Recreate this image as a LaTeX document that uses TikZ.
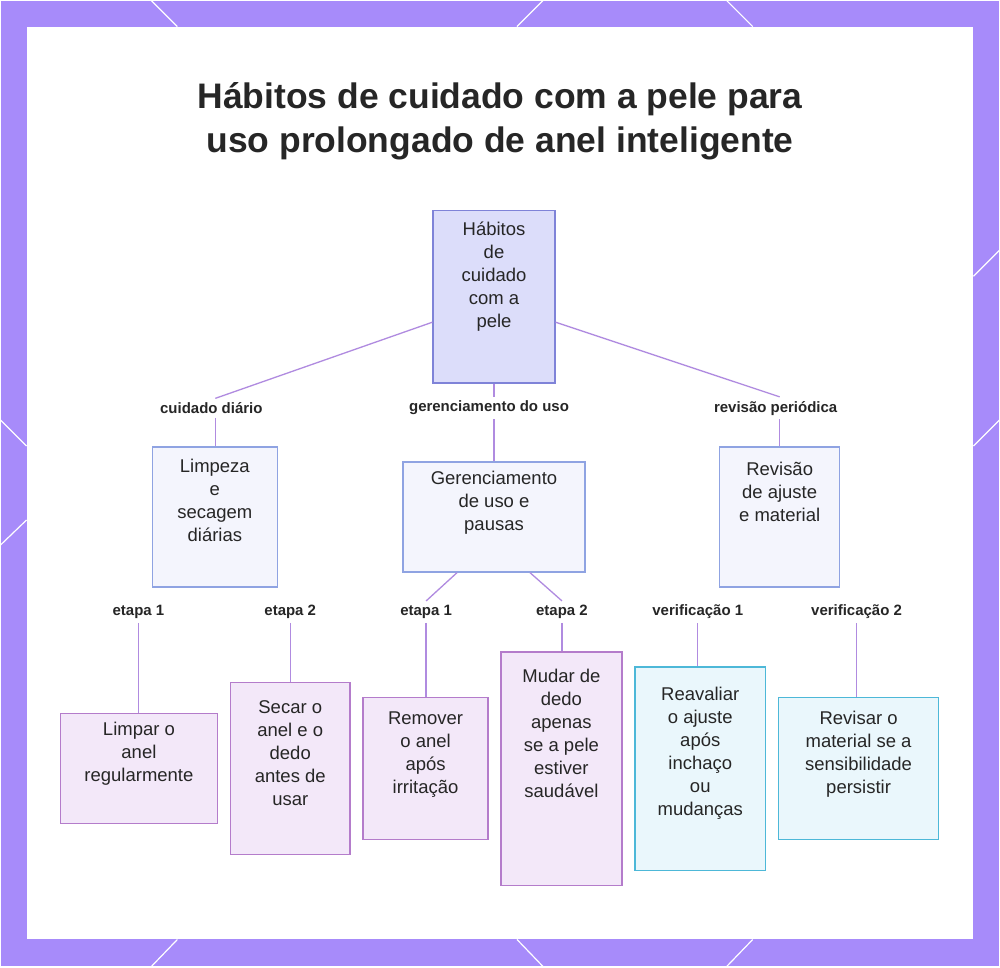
\documentclass[tikz,border=0pt]{standalone}
\usepackage{fontspec}
\setmainfont{Liberation Sans}
\definecolor{frame}{HTML}{A78BFA}
\definecolor{rootfill}{HTML}{DCDDFA}
\definecolor{rootdraw}{HTML}{7F83D8}
\definecolor{midfill}{HTML}{F4F5FD}
\definecolor{middraw}{HTML}{8FA3E2}
\definecolor{purfill}{HTML}{F3E8F9}
\definecolor{purdraw}{HTML}{B47CCB}
\definecolor{cyfill}{HTML}{EAF7FC}
\definecolor{cydraw}{HTML}{4DB8D8}
\definecolor{edge}{HTML}{B08BE0}
\tikzset{
  box/.style={draw, line width=1.4pt, align=center, inner sep=0pt,
    font=\fontsize{18.5}{23}\selectfont, text=black!85},
  root/.style={box, fill=rootfill, draw=rootdraw},
  mid/.style={box, fill=midfill, draw=middraw},
  leaf/.style={box, fill=purfill, draw=purdraw},
  check/.style={box, fill=cyfill, draw=cydraw},
  lbl/.style={font=\bfseries\fontsize{15}{16}\selectfont, inner sep=4pt, text=black!85},
  link/.style={draw=edge, line width=1.3pt},
  deco/.style={draw=white, line width=1.2pt}
}
\begin{document}
\begin{tikzpicture}[x=1pt,y=-1pt]
 \fill[frame] (0,0) rectangle (1000,967);
 \fill[white] (26,26) rectangle (974,940);
 % frame lines
 \draw[deco] (151,0) -- (177,26);
 \draw[deco] (543,0) -- (517,26);
 \draw[deco] (727,0) -- (753,26);
 \draw[deco] (151,967) -- (177,940);
 \draw[deco] (543,967) -- (517,940);
 \draw[deco] (727,967) -- (753,940);
 \draw[deco] (0,420) -- (26,446);
 \draw[deco] (0,545) -- (26,520);
 \draw[deco] (1000,250) -- (974,276);
 \draw[deco] (1000,420) -- (974,446);
 % title
 \node[font=\bfseries\fontsize{35.5}{44}\selectfont, align=center, text=black!85] (title) at (500,121)
  {Hábitos de cuidado com a pele para\\uso prolongado de anel inteligente};
 % boxes
 \node[root, minimum width=122pt, minimum height=173pt] (skin) at (494,296.5)
  {Hábitos\\de\\cuidado\\com a\\pele\\[22pt]};
 \node[mid, minimum width=125pt, minimum height=140pt] (clean) at (214.5,517)
  {Limpeza\\e\\secagem\\diárias\\[10pt]};
 \node[mid, minimum width=182pt, minimum height=110pt] (usage) at (494,517)
  {Gerenciamento\\de uso e\\pausas\\[10pt]};
 \node[mid, minimum width=120pt, minimum height=140pt] (review) at (780,517)
  {Revisão\\de ajuste\\e material\\[28pt]};
 \node[leaf, minimum width=157pt, minimum height=110pt] (wipe) at (138.5,769)
  {Limpar o\\anel\\regularmente\\[10pt]};
 \node[leaf, minimum width=120pt, minimum height=172pt] (dry) at (290,769)
  {Secar o\\anel e o\\dedo\\antes de\\usar\\[8pt]};
 \node[leaf, minimum width=125pt, minimum height=142pt] (remove) at (425.5,769)
  {Remover\\o anel\\após\\irritação\\[10pt]};
 \node[leaf, minimum width=121pt, minimum height=234pt] (swap) at (561.5,769)
  {Mudar de\\dedo\\apenas\\se a pele\\estiver\\saudável\\[48pt]};
 \node[check, minimum width=131pt, minimum height=204pt] (refit) at (700.5,769)
  {Reavaliar\\o ajuste\\após\\inchaço\\ou\\mudanças\\[12pt]};
 \node[check, minimum width=160pt, minimum height=142pt] (material) at (859,769)
  {Revisar o\\material se a\\sensibilidade\\persistir\\[10pt]};
 % edge labels
 \node[lbl] (l-clean) at (211,408) {cuidado diário};
 \node[lbl] (l-usage) at (489,408) {gerenciamento do uso};
 \node[lbl] (l-review) at (776,408) {revisão periódica};
 \node[lbl] (l-wipe) at (138,612) {etapa 1};
 \node[lbl] (l-dry) at (290,612) {etapa 2};
 \node[lbl] (l-remove) at (426,612) {etapa 1};
 \node[lbl] (l-swap) at (562,612) {etapa 2};
 \node[lbl] (l-refit) at (698,612) {verificação 1};
 \node[lbl] (l-material) at (857,612) {verificação 2};
 % connectors
 \draw[link] (skin.west |- 0,322) -- (l-clean.north -| 215,0);
 \draw[link] (l-clean.south -| 215,0) -- (clean.north -| 215,0);
 \draw[link] (skin.south) -- (l-usage.north -| 494,0);
 \draw[link] (l-usage.south -| 494,0) -- (usage.north);
 \draw[link] (skin.east |- 0,322) -- (l-review.north -| 780,0);
 \draw[link] (l-review.south -| 780,0) -- (review.north -| 780,0);
 \draw[link] (l-wipe.south) -- (wipe.north -| l-wipe);
 \draw[link] (l-dry.south) -- (dry.north -| l-dry);
 \draw[link] (usage.south -| 457,0) -- (l-remove.north);
 \draw[link] (l-remove.south) -- (remove.north -| l-remove);
 \draw[link] (usage.south -| 530,0) -- (l-swap.north);
 \draw[link] (l-swap.south) -- (swap.north -| l-swap);
 \draw[link] (l-refit.south) -- (refit.north -| l-refit);
 \draw[link] (l-material.south) -- (material.north -| l-material);
\end{tikzpicture}
\end{document}
